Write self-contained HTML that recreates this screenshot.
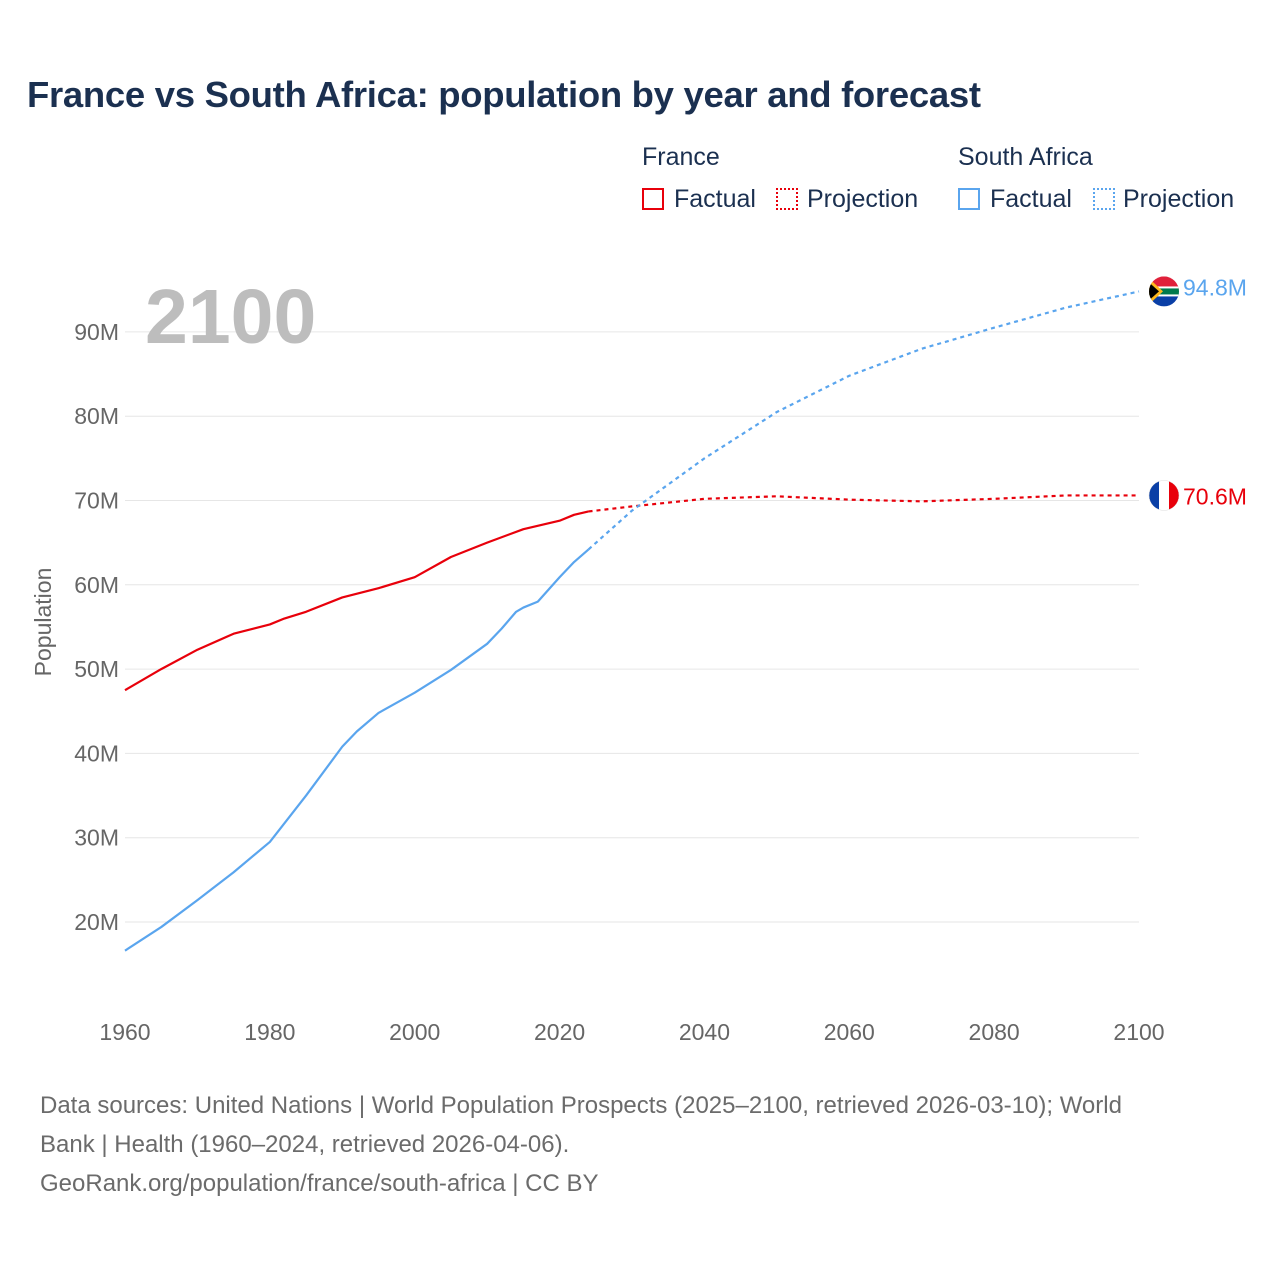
<!DOCTYPE html>
<html><head><meta charset="utf-8">
<style>
html,body{margin:0;padding:0;background:#fff;}
body{width:1280px;height:1280px;position:relative;overflow:hidden;font-family:"Liberation Sans",sans-serif;}
#title{position:absolute;left:27px;top:74px;font-size:36.5px;font-weight:bold;color:#1b3050;letter-spacing:-0.3px;}
.lg{position:absolute;font-size:25px;color:#1b3050;}
.sw{position:absolute;width:22px;height:22px;box-sizing:border-box;}
#foot{position:absolute;left:40px;top:1086px;font-size:24px;line-height:39px;color:#6b6b6b;width:1110px;}
</style></head><body>
<div id="title">France vs South Africa: population by year and forecast</div>
<div class="lg" style="left:642px;top:143px">France</div>
<div class="sw" style="left:642px;top:188px;border:2px solid #e8000b"></div>
<div class="lg" style="left:674px;top:185px">Factual</div>
<div class="sw" style="left:776px;top:188px;border:2px dotted #e8000b"></div>
<div class="lg" style="left:807px;top:185px">Projection</div>
<div class="lg" style="left:958px;top:143px">South Africa</div>
<div class="sw" style="left:958px;top:188px;border:2px solid #5aa5ee"></div>
<div class="lg" style="left:990px;top:185px">Factual</div>
<div class="sw" style="left:1093px;top:188px;border:2px dotted #5aa5ee"></div>
<div class="lg" style="left:1123px;top:185px">Projection</div>
<svg id="chart" width="1280" height="1280" style="position:absolute;left:0;top:0"></svg>
<div id="foot">Data sources: United Nations | World Population Prospects (2025–2100, retrieved 2026-03-10); World Bank | Health (1960–2024, retrieved 2026-04-06).<br>GeoRank.org/population/france/south-africa | CC BY</div>
<script>
const xTicks=[1960,1980,2000,2020,2040,2060,2080,2100];
const yTicks=[20,30,40,50,60,70,80,90];
const frYears=[1960,1965,1970,1975,1980,1982,1985,1990,1995,2000,2005,2010,2015,2020,2022,2024];
const frVals=[47.5,50.0,52.3,54.2,55.3,56.0,56.8,58.5,59.6,60.9,63.3,65.0,66.6,67.6,68.3,68.7];
const frProjYears=[2024,2030,2040,2050,2060,2070,2080,2090,2100];
const frProjVals=[68.7,69.3,70.2,70.5,70.1,69.9,70.2,70.6,70.6];
const saYears=[1960,1965,1970,1975,1980,1985,1990,1992,1995,2000,2005,2010,2012,2014,2015,2017,2020,2022,2024];
const saVals=[16.6,19.4,22.6,25.9,29.5,35.0,40.8,42.6,44.8,47.2,49.9,53.0,54.8,56.8,57.3,58.0,60.9,62.7,64.2];
const saProjYears=[2024,2030,2040,2050,2060,2070,2080,2090,2100];
const saProjVals=[64.2,68.8,75.0,80.5,84.8,88.0,90.5,92.9,94.8];
const NS='http://www.w3.org/2000/svg';
const svg=document.getElementById('chart');
const X=y=>125+(y-1960)*(1014/140);
const Y=v=>922-(v-20)*8.43;
function mk(t,a,p){const e=document.createElementNS(NS,t);for(const k in a)e.setAttribute(k,a[k]);(p||svg).appendChild(e);return e;}
yTicks.forEach(v=>{
  const g=mk('line',{x1:125,x2:1139,y1:Y(v),y2:Y(v),stroke:'#e6e6e6','stroke-width':1});
  
  
  const t=mk('text',{x:119,y:Y(v)+8,'text-anchor':'end','font-size':23,fill:'#666'});
  t.textContent=v+'M';
  
  
});
xTicks.forEach(y=>{
  const t=mk('text',{x:X(y),y:1040,'text-anchor':'middle','font-size':23,fill:'#666'});
  t.textContent=y;
  
  
});
const yt=mk('text',{x:0,y:0,transform:'translate(51,622) rotate(-90)','text-anchor':'middle','font-size':23,fill:'#666'});
yt.textContent='Population';


const yr=mk('text',{x:145,y:343,'font-size':77,'font-weight':'bold',fill:'#bdbdbd'});
yr.textContent='2100';


function line(ys,vs,col,dash,name){
  const p=mk('polyline',{points:ys.map((y,i)=>X(y)+','+Y(vs[i])).join(' '),fill:'none',stroke:col,'stroke-width':2.2,'stroke-linejoin':'round'});
  if(dash)p.setAttribute('stroke-dasharray','4 4');
  
  
}
line(frYears,frVals,'#e8000b',false,'france-factual-line');
line(frProjYears,frProjVals,'#e8000b',true,'france-projection-line');
line(saYears,saVals,'#5aa5ee',false,'sa-factual-line');
line(saProjYears,saProjVals,'#5aa5ee',true,'sa-projection-line');
const frY=Y(frProjVals[frProjVals.length-1]), saY=Y(saProjVals[saProjVals.length-1]);
const fx=1164;
const ff=mk('g',{});


mk('clipPath',{id:'cf'},ff);mk('circle',{cx:fx,cy:frY,r:15},document.getElementById('cf'));
const fg=mk('g',{'clip-path':'url(#cf)'},ff);
mk('rect',{x:fx-15,y:frY-15,width:10,height:30,fill:'#0a3fa6'},fg);
mk('rect',{x:fx-5,y:frY-15,width:10,height:30,fill:'#fff'},fg);
mk('rect',{x:fx+5,y:frY-15,width:10,height:30,fill:'#e8000b'},fg);
mk('circle',{cx:fx,cy:frY,r:15,fill:'none',stroke:'#ddd','stroke-width':0.5},ff);
const sf=mk('g',{});


mk('clipPath',{id:'cs'},sf);mk('circle',{cx:fx,cy:saY,r:15},document.getElementById('cs'));
const sg=mk('g',{'clip-path':'url(#cs)'},sf);
mk('rect',{x:fx-15,y:saY-15,width:30,height:15,fill:'#e0203a'},sg);
mk('rect',{x:fx-15,y:saY,width:30,height:15,fill:'#0a3fa6'},sg);
mk('rect',{x:fx-15,y:saY-5,width:30,height:10,fill:'#fff'},sg);
mk('rect',{x:fx-15,y:saY-3,width:30,height:6,fill:'#007a4d'},sg);
mk('polygon',{points:(fx-15)+','+(saY-13)+' '+(fx-1)+','+saY+' '+(fx-15)+','+(saY+13),fill:'#ffb81c'},sg);
mk('polygon',{points:(fx-15)+','+(saY-9)+' '+(fx-5)+','+saY+' '+(fx-15)+','+(saY+9),fill:'#000'},sg);
const l1=mk('text',{x:1183,y:frY+9,'font-size':23,fill:'#e8000b'});
l1.textContent=frProjVals[frProjVals.length-1].toFixed(1)+'M';


const l2=mk('text',{x:1183,y:saY+4,'font-size':23,fill:'#5aa5ee'});
l2.textContent=saProjVals[saProjVals.length-1].toFixed(1)+'M';


</script>
</body></html>
